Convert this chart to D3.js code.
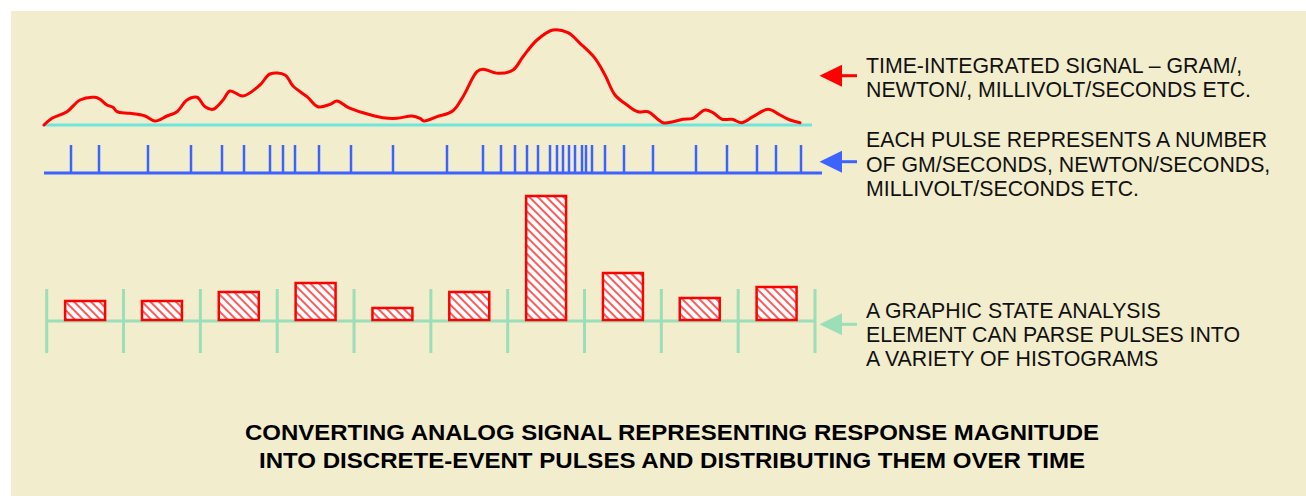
<!DOCTYPE html>
<html>
<head>
<meta charset="utf-8">
<script src="https://cdnjs.cloudflare.com/ajax/libs/d3/7.8.5/d3.min.js"></script>
<style>
  body { margin: 0; background: #ffffff; }
  svg { display: block; }
  text { font-family: "Liberation Sans", Arial, sans-serif; }
</style>
</head>
<body>
<script>
// Analog signal -> pulses -> histogram diagram

// signal (time units, magnitude above baseline)
var signalTime = [0, 8, 23, 36, 51, 56, 63, 69, 73, 86, 101, 111, 123, 133, 143, 153, 161, 169, 179, 186,
  199, 216, 226, 241, 249, 263, 274, 286, 293, 304, 319, 339, 353, 368, 376, 380, 393, 409, 419, 433,
  439, 454, 469, 479, 493, 509, 524, 536, 551, 561, 571, 583, 594, 604, 619, 629, 639, 649, 661, 669,
  678, 688, 698, 709, 724, 736, 746, 756];
var signalValue = [0, 6.7, 13.3, 25, 27.7, 25.7, 20, 17.7, 13.3, 11.7, 9, 4, 9, 13.3, 25, 27.7, 18.3, 15.7, 25, 34,
  29, 40, 51, 50, 39, 28.3, 18.3, 20.7, 24, 17.7, 12.3, 7.3, 6.7, 9, 6.7, 4, 8.3, 14.3, 28.3, 53.3,
  55.7, 51.7, 55, 68.3, 85, 95, 92.3, 81.7, 66.7, 50, 30, 20, 13.3, 13.3, 2.3, 3.3, 5.7, 6.7, 15, 12.3,
  5.7, 5.7, 2.3, 8.3, 15.7, 10, 5, 2.3];

// times of the discrete-event pulses
var pulseTimes = [27, 55, 104, 147, 178, 200, 226, 239, 251, 275, 307, 349, 403, 439, 457, 471,
  483, 494, 506, 513, 519, 525, 531, 538, 542, 548, 561, 580, 609, 652, 683, 713, 732, 757];

// histogram bins
var binNames = ["b1", "b2", "b3", "b4", "b5", "b6", "b7", "b8", "b9", "b10"];
var binValues = [19, 19, 28, 37, 12, 28, 124, 47, 22, 33];

// labels
var signalLabel = ["TIME-INTEGRATED SIGNAL \u2013 GRAM/,", "NEWTON/, MILLIVOLT/SECONDS ETC."];
var pulseLabel = ["EACH PULSE REPRESENTS A NUMBER", "OF GM/SECONDS, NEWTON/SECONDS,", "MILLIVOLT/SECONDS ETC."];
var histLabel = ["A GRAPHIC STATE ANALYSIS", "ELEMENT CAN PARSE PULSES INTO", "A VARIETY OF HISTOGRAMS"];
var titleLines = ["CONVERTING ANALOG SIGNAL REPRESENTING RESPONSE MAGNITUDE",
  "INTO DISCRETE-EVENT PULSES AND DISTRIBUTING THEM OVER TIME"];

var svgWidth = 1306;
var svgHeight = 496;

var red = "#ff0000";
var blue = "#3d63ff";
var cyan = "#6fe6dc";
var green = "#9bdeb8";

var svg = d3.select("body")
  .append("svg")
  .attr("width", svgWidth)
  .attr("height", svgHeight);

// beige panel
svg.append("rect")
  .attr("x", 11)
  .attr("y", 11)
  .attr("width", svgWidth - 11)
  .attr("height", svgHeight - 11)
  .attr("fill", "#f2edcd");

// hatch pattern for the bars
var defs = svg.append("defs");
var pattern = defs.append("pattern")
  .attr("id", "hatch")
  .attr("patternUnits", "userSpaceOnUse")
  .attr("width", 6)
  .attr("height", 6)
  .attr("patternTransform", "rotate(-45)");
pattern.append("rect")
  .attr("width", 6)
  .attr("height", 6)
  .attr("fill", "#ffffff");
pattern.append("line")
  .attr("x1", 0).attr("y1", 0)
  .attr("x2", 0).attr("y2", 6)
  .attr("stroke", "#ff5a5a")
  .attr("stroke-width", 4);

// shared time scale
var xScale = d3.scaleLinear()
  .domain([0, 778])
  .range([44, 822]);

// ---- signal ----
var ySignal = d3.scaleLinear()
  .domain([0, 100])
  .range([125, 25]);

svg.append("line")
  .attr("x1", xScale(0))
  .attr("x2", xScale(768))
  .attr("y1", ySignal(0))
  .attr("y2", ySignal(0))
  .attr("stroke", cyan)
  .attr("stroke-width", 3);

var signalLine = d3.line()
  .x(function(d) { return xScale(d[0]); })
  .y(function(d) { return ySignal(d[1]); })
  .curve(d3.curveCatmullRom.alpha(0.5));

svg.append("path")
  .datum(signalTime.map(function(t, i) { return [t, signalValue[i]]; }))
  .attr("d", signalLine)
  .attr("fill", "none")
  .attr("stroke", red)
  .attr("stroke-width", 3)
  .attr("stroke-linejoin", "round")
  .attr("stroke-linecap", "round");

// ---- pulses ----
var pulseBase = 173;
var pulseTop = 145;

svg.append("line")
  .attr("x1", xScale(0))
  .attr("x2", xScale(778))
  .attr("y1", pulseBase)
  .attr("y2", pulseBase)
  .attr("stroke", blue)
  .attr("stroke-width", 3);

svg.selectAll(".pulse")
  .data(pulseTimes)
  .enter()
  .append("line")
  .attr("class", "pulse")
  .attr("x1", function(d) { return xScale(d); })
  .attr("x2", function(d) { return xScale(d); })
  .attr("y1", pulseTop)
  .attr("y2", pulseBase)
  .attr("stroke", blue)
  .attr("stroke-width", 2.5);

// ---- histogram ----
var xBand = d3.scaleBand()
  .domain(binNames)
  .range([46.7, 815])
  .paddingInner(0.48)
  .paddingOuter(0.24);

var yHist = d3.scaleLinear()
  .domain([0, 130])
  .range([320, 190]);

var axisY = 321;
var step = xBand.step();
var binStart = xBand.range()[0];

svg.append("line")
  .attr("x1", binStart)
  .attr("x2", binStart + step * binNames.length)
  .attr("y1", axisY)
  .attr("y2", axisY)
  .attr("stroke", green)
  .attr("stroke-width", 3);

svg.selectAll(".bintick")
  .data(d3.range(binNames.length + 1))
  .enter()
  .append("line")
  .attr("class", "bintick")
  .attr("x1", function(i) { return binStart + i * step; })
  .attr("x2", function(i) { return binStart + i * step; })
  .attr("y1", 289)
  .attr("y2", 353)
  .attr("stroke", green)
  .attr("stroke-width", 3);

svg.selectAll(".bar")
  .data(binValues)
  .enter()
  .append("rect")
  .attr("class", "bar")
  .attr("x", function(d, i) { return xBand(binNames[i]); })
  .attr("y", function(d) { return yHist(d); })
  .attr("width", xBand.bandwidth())
  .attr("height", function(d) { return yHist(0) - yHist(d); })
  .attr("fill", "url(#hatch)")
  .attr("stroke", red)
  .attr("stroke-width", 2.5);

// ---- arrows + labels ----
function drawArrow(y, color) {
  svg.append("line")
    .attr("x1", 838)
    .attr("x2", 857)
    .attr("y1", y)
    .attr("y2", y)
    .attr("stroke", color)
    .attr("stroke-width", 3);
  svg.append("path")
    .attr("d", "M819.5," + y + "L842," + (y - 11) + "L842," + (y + 11) + "Z")
    .attr("fill", color);
}

function drawLabel(lines, firstBaseline, gap) {
  svg.append("g")
    .selectAll("text")
    .data(lines)
    .enter()
    .append("text")
    .attr("x", 866)
    .attr("y", function(d, i) { return firstBaseline + i * gap; })
    .attr("font-size", "21.3px")
    .attr("fill", "#111111")
    .text(function(d) { return d; });
}

drawArrow(75.7, red);
drawArrow(161.7, blue);
drawArrow(324.3, green);

drawLabel(signalLabel, 72.7, 24.6);
drawLabel(pulseLabel, 147.3, 24.2);
drawLabel(histLabel, 317.5, 24.3);

// title
var titleLengths = [854, 826];
svg.selectAll(".title")
  .data(titleLines)
  .enter()
  .append("text")
  .attr("class", "title")
  .attr("x", 672)
  .attr("y", function(d, i) { return 440 + i * 28; })
  .attr("text-anchor", "middle")
  .attr("font-size", "22px")
  .attr("font-weight", "bold")
  .attr("fill", "#000000")
  .attr("textLength", function(d, i) { return titleLengths[i]; })
  .attr("lengthAdjust", "spacingAndGlyphs")
  .text(function(d) { return d; });
</script>
</body>
</html>
